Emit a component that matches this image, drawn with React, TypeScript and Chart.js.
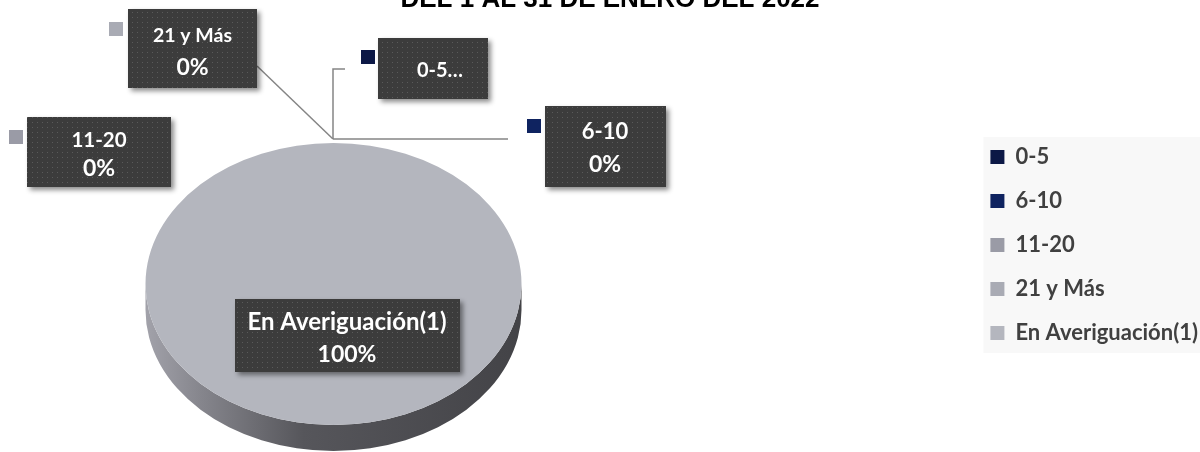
import React, { useEffect, useRef } from "react";
import { Chart, registerables } from "chart.js";

Chart.register(...registerables);

// ---- data ----
const TITLE = "DEL 1 AL 31 DE ENERO DEL 2022";
const CATEGORIES = ["0-5", "6-10", "11-20", "21 y Más", "En Averiguación(1)"];
const VALUES = [0, 0, 0, 0, 1];
const COLORS = ["#0c1846", "#0f2360", "#9a9ba6", "#a9abb4", "#b4b6be"];

// ---- layout (positions / sizes only) ----
const W = 1200;
const H = 452;
const PIE = { cx: 333.5, cy: 284, rx: 188, ry: 141, depth: 26 };
const LABEL_LAYOUT = [
  { box: [378, 38, 110, 61], square: [361, 50], textX: 440, lineY: [71], sizes: [20], truncated: true },
  { box: [545, 106, 121, 81], square: [527, 119], textX: 605, lineY: [132, 165], sizes: [22, 23], truncated: false },
  { box: [27, 117, 144, 70], square: [9, 130], textX: 99, lineY: [140, 169], sizes: [20.5, 23], truncated: false },
  { box: [128, 9, 129, 79], square: [109, 22], textX: 192.5, lineY: [35.5, 67.5], sizes: [19.5, 23], truncated: false },
  { box: [235, 299, 225, 73], square: [217, 313], textX: 347, lineY: [322.5, 355], sizes: [24, 23], truncated: false },
];
const LEADERS = [
  [[257, 66], [333, 139]],
  [[345, 69], [333, 69], [333, 139]],
  [[508, 139], [333, 139]],
];

function makePattern(ctx: CanvasRenderingContext2D) {
  const c = document.createElement("canvas");
  c.width = 5;
  c.height = 5;
  const p = c.getContext("2d")!;
  p.fillStyle = "#3c3c3c";
  p.fillRect(0, 0, 5, 5);
  p.fillStyle = "#5a5a5a";
  p.fillRect(2, 2, 1, 1);
  return ctx.createPattern(c, "repeat");
}

const legendBg = {
  id: "legendBg",
  beforeDraw(chart: any) {
    const lg = chart.legend;
    if (!lg || !lg.legendHitBoxes || !lg.legendHitBoxes.length) return;
    const hb = lg.legendHitBoxes;
    const left = Math.min(...hb.map((h: any) => h.left)) - 7;
    const top = Math.min(...hb.map((h: any) => h.top)) - 9;
    const bottom = Math.max(...hb.map((h: any) => h.top + h.height)) + 9;
    const ctx = chart.ctx;
    ctx.save();
    ctx.fillStyle = "#f8f8f8";
    ctx.fillRect(left, top, W - left, bottom - top);
    ctx.restore();
  },
};

const pie3d = {
  id: "pie3d",
  beforeDatasetsDraw(chart: any) {
    const ctx = chart.ctx as CanvasRenderingContext2D;
    const meta = chart.getDatasetMeta(0);
    const arc = meta.data[0] as any;
    // side of the disc
    ctx.save();
    const g = ctx.createLinearGradient(PIE.cx - PIE.rx, 0, PIE.cx + PIE.rx, 0);
    g.addColorStop(0, "#a2a2aa");
    g.addColorStop(0.15, "#85858c");
    g.addColorStop(0.42, "#56565b");
    g.addColorStop(1, "#434347");
    ctx.fillStyle = g;
    ctx.beginPath();
    ctx.ellipse(PIE.cx, PIE.cy, PIE.rx, PIE.ry, 0, 0, Math.PI, false);
    ctx.ellipse(PIE.cx, PIE.cy + PIE.depth, PIE.rx, PIE.ry, 0, Math.PI, 0, true);
    ctx.closePath();
    ctx.fill();
    ctx.restore();
    // squash the library's pie into the top face
    ctx.save();
    ctx.translate(PIE.cx, PIE.cy);
    ctx.scale(PIE.rx / arc.outerRadius, PIE.ry / arc.outerRadius);
    ctx.translate(-arc.x, -arc.y);
  },
  afterDatasetsDraw(chart: any) {
    const ctx = chart.ctx as CanvasRenderingContext2D;
    ctx.restore();

    // leader lines
    ctx.save();
    ctx.strokeStyle = "#858585";
    ctx.lineWidth = 1.5;
    LEADERS.forEach((pts) => {
      ctx.beginPath();
      pts.forEach(([x, y], i) => (i ? ctx.lineTo(x, y) : ctx.moveTo(x, y)));
      ctx.stroke();
    });
    ctx.restore();

    const total = VALUES.reduce((a, b) => a + b, 0);
    const pattern = makePattern(ctx);
    LABEL_LAYOUT.forEach((lay, i) => {
      const [bx, by, bw, bh] = lay.box;
      ctx.save();
      ctx.shadowColor = "rgba(0,0,0,0.45)";
      ctx.shadowOffsetX = 3;
      ctx.shadowOffsetY = 3;
      ctx.shadowBlur = 5;
      ctx.fillStyle = pattern || "#404040";
      ctx.fillRect(bx, by, bw, bh);
      ctx.restore();

      ctx.save();
      ctx.fillStyle = COLORS[i];
      ctx.fillRect(lay.square[0], lay.square[1], 14, 14);
      ctx.restore();

      const pct = Math.round((VALUES[i] / total) * 100) + "%";
      const lines = lay.truncated ? [CATEGORIES[i] + "…"] : [CATEGORIES[i], pct];
      ctx.save();
      ctx.fillStyle = "#ffffff";
      ctx.textAlign = "center";
      ctx.textBaseline = "middle";
      lines.forEach((t, k) => {
        ctx.font = `bold ${lay.sizes[k]}px Lato`;
        ctx.fillText(t, lay.textX, lay.lineY[k]);
      });
      ctx.restore();
    });
  },
};

export default function App() {
  const ref = useRef<HTMLCanvasElement | null>(null);
  useEffect(() => {
    if (!ref.current) return;
    const chart = new Chart(ref.current, {
      type: "pie",
      data: {
        labels: CATEGORIES,
        datasets: [
          {
            data: VALUES,
            backgroundColor: COLORS,
            borderWidth: 0,
            radius: PIE.rx,
            clip: false,
          } as any,
        ],
      },
      options: {
        responsive: false,
        animation: false,
        devicePixelRatio: 1,
        layout: { padding: { left: 12, right: -8, top: 0, bottom: 0 } },
        plugins: {
          title: {
            display: true,
            text: TITLE,
            color: "#000000",
            font: { family: "Liberation Sans", size: 26, weight: "bold", lineHeight: 1.2 },
            padding: { top: -15.6, bottom: 22.4 },
          },
          legend: {
            position: "right",
            fullSize: false,
            labels: {
              boxWidth: 14,
              boxHeight: 14,
              padding: 22,
              color: "#404040",
              font: { family: "Lato", size: 22, weight: "bold" },
            },
          },
          tooltip: { enabled: false },
        },
      } as any,
      plugins: [legendBg, pie3d],
    });
    return () => chart.destroy();
  }, []);
  return (
    <div style={{ position: "absolute", left: 0, top: 0, width: W, height: H, background: "#ffffff" }}>
      <canvas ref={ref} width={W} height={H} style={{ display: "block" }} />
    </div>
  );
}
